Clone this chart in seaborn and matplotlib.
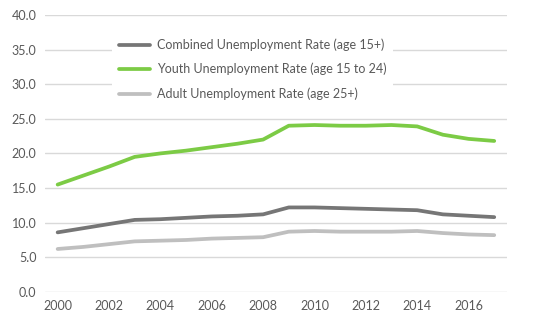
import matplotlib
matplotlib.use("Agg")
import matplotlib.pyplot as plt
import seaborn as sns
import pandas as pd
from matplotlib.ticker import FormatStrFormatter

years = list(range(2000, 2018))
combined = [8.6, 9.2, 9.8, 10.4, 10.5, 10.7, 10.9, 11.0, 11.2, 12.2, 12.2, 12.1, 12.0, 11.9, 11.8, 11.2, 11.0, 10.8]
youth = [15.5, 16.8, 18.1, 19.5, 20.0, 20.4, 20.9, 21.4, 22.0, 24.0, 24.1, 24.0, 24.0, 24.1, 23.9, 22.7, 22.1, 21.8]
adult = [6.2, 6.5, 6.9, 7.3, 7.4, 7.5, 7.7, 7.8, 7.9, 8.7, 8.8, 8.7, 8.7, 8.7, 8.8, 8.5, 8.3, 8.2]
series_names = ["Combined Unemployment Rate (age 15+)",
                "Youth Unemployment Rate (age 15 to 24)",
                "Adult Unemployment Rate (age 25+)"]
colors = ["#767676", "#7ccb45", "#bfbfbf"]
xticks = list(range(2000, 2017, 2))
yticks = [0, 5, 10, 15, 20, 25, 30, 35, 40]

rows = []
for name, vals in zip(series_names, [combined, youth, adult]):
    for y, v in zip(years, vals):
        rows.append({"Year": y, "Rate": v, "Series": name})
df = pd.DataFrame(rows)

sns.set_theme(style="white")
plt.rcParams['font.family'] = ['Lato', 'DejaVu Sans']

fig = plt.figure(figsize=(5.4, 3.24), dpi=100)
ax = fig.add_axes([0.083, 0.099, 0.856, 0.855])
sns.lineplot(data=df, x="Year", y="Rate", hue="Series", hue_order=series_names,
             palette=colors, linewidth=2.7, ax=ax, legend=False)

ax.set_xlim(1999.5, 2017.5)
ax.set_ylim(0, 40)
ax.set_xticks(xticks)
ax.set_yticks(yticks)
ax.yaxis.set_major_formatter(FormatStrFormatter("%.1f"))
ax.set_xlabel("")
ax.set_ylabel("")
ax.grid(axis="y", color="#d9d9d9", linewidth=1)
ax.set_axisbelow(True)
for s in ax.spines.values():
    s.set_visible(False)
ax.tick_params(axis="both", length=0, labelsize=9, labelcolor="#595959", pad=6)

handles = [plt.Line2D([], [], color=c, linewidth=2.7) for c in colors]
leg = ax.legend(handles, series_names, loc="upper left",
                bbox_to_anchor=(106 / 540, 1 - 26 / 324), bbox_transform=fig.transFigure,
                frameon=True, facecolor="white", edgecolor="none", framealpha=1,
                fontsize=9, handlelength=2.5, handletextpad=0.55, labelspacing=0.95,
                borderpad=0.5)
for t in leg.get_texts():
    t.set_color("#595959")

fig.savefig("out.png", dpi=100)
